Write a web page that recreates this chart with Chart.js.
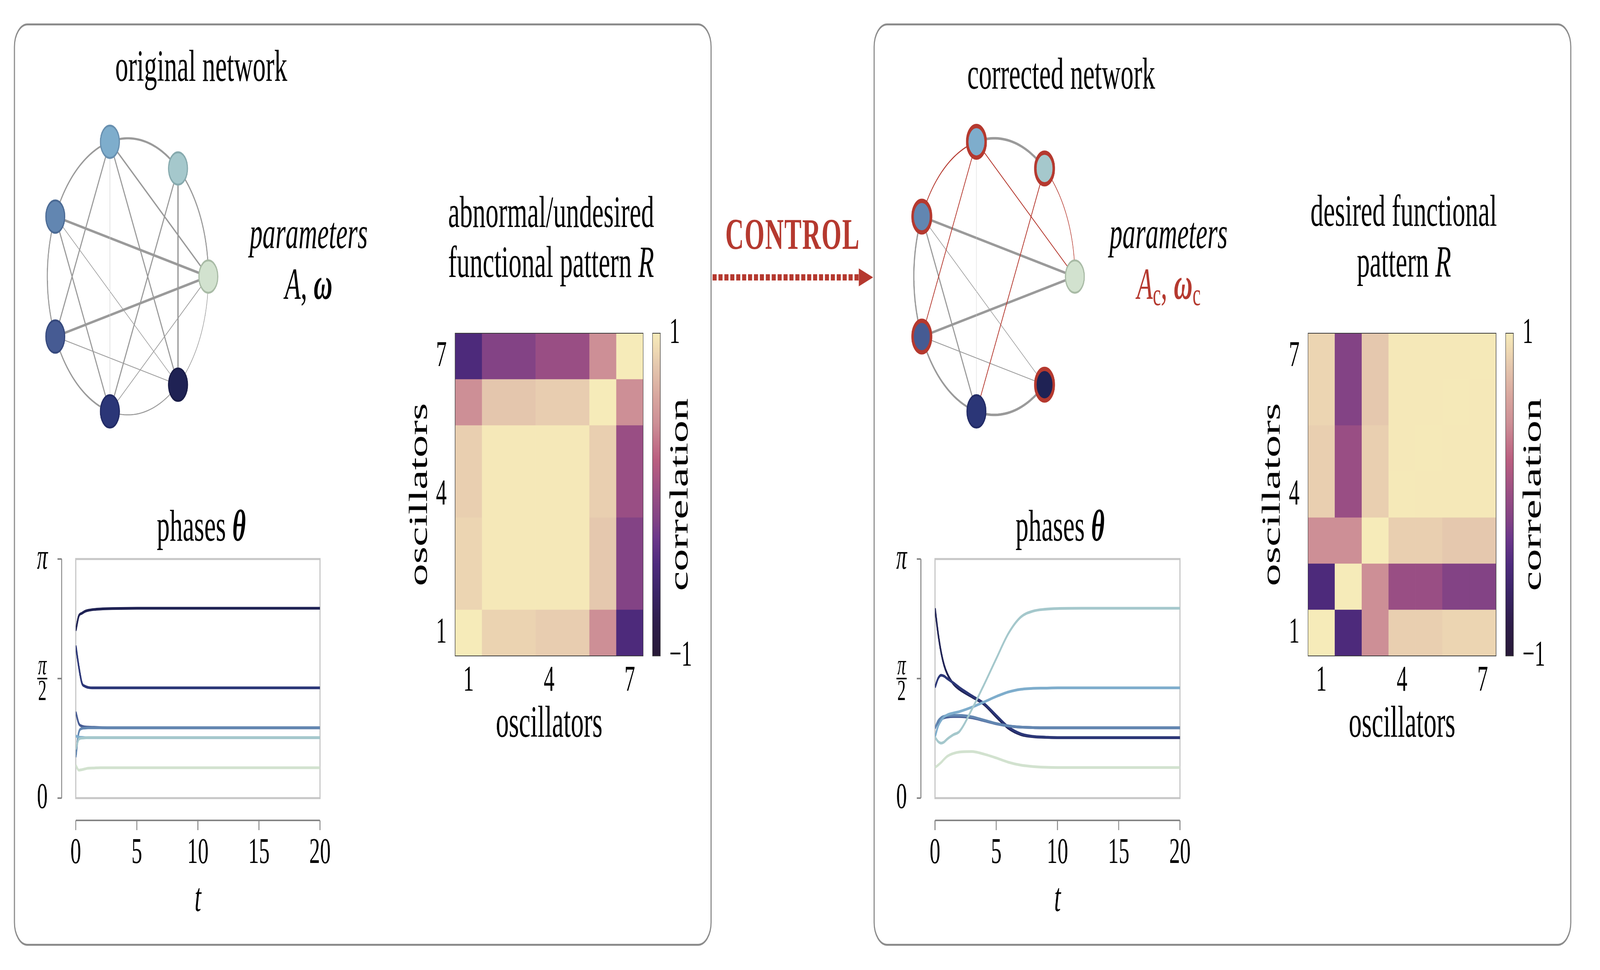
<!DOCTYPE html>
<html>
<head>
<meta charset="utf-8">
<script src="https://cdn.jsdelivr.net/npm/chart.js@4.4.1/dist/chart.umd.min.js"></script>
<style>
  html, body { margin: 0; padding: 0; background: #fff; overflow: hidden; }
  #page { position: relative; width: 7035px; height: 2483px; overflow: hidden; transform-origin: 0 0;
          font-family: "Liberation Serif", "DejaVu Serif", serif; color: #000; }
  .panel { position: absolute; border: 5px solid #8c8c8c; border-radius: 60px; box-sizing: border-box; }
  .txt { position: absolute; white-space: nowrap; line-height: 1; transform: translateX(-50%); }
  canvas { position: absolute; }
</style>
</head>
<body>
<div id="page">
  <div class="panel" style="left:61px;top:60px;width:3068px;height:2361px"></div>
  <div class="panel" style="left:3841px;top:60px;width:3068px;height:2361px"></div>
  <svg style="position:absolute;left:3120px;top:670px" width="730" height="80">
    <line x1="13" y1="40" x2="656" y2="40" stroke="#b5392f" stroke-width="16" stroke-dasharray="18 8"/>
    <polygon points="656,17 719,40 656,63" fill="#b5392f"/>
  </svg>
</div>

<script>
// oscillator indices (node k sits at angle k*2pi/7 on the ring)
const nodeIdx = [0, 1, 2, 3, 4, 5, 6];
const oscLabels = ["1", "2", "3", "4", "5", "6", "7"];
const oscTickIdx = [0, 3, 6];

// coupling edges [i, j, weight]
const edgesOrig = [
  [1, 2, 2.5], [2, 3, 2], [3, 4, 2], [4, 5, 2], [5, 6, 1], [6, 0, 0.8], [0, 1, 2],
  [2, 4, 2], [2, 5, 0.4], [2, 6, 2], [2, 0, 2], [1, 5, 2], [1, 6, 2.5],
  [3, 0, 3], [3, 5, 2], [3, 6, 0.7], [4, 0, 3], [4, 6, 0.7], [5, 0, 0.8]
];
// corrected network [i, j, weight, changed by control]
const edgesCorr = [
  [1, 2, 3, 0], [2, 3, 1.5, 1], [3, 4, 2.5, 0], [4, 5, 2.5, 0], [5, 6, 3, 0], [0, 1, 1, 1],
  [2, 0, 1.3, 1], [2, 4, 1.5, 1], [2, 5, 0.4, 0], [1, 5, 1.5, 1],
  [3, 0, 3, 0], [4, 0, 3, 0], [3, 5, 2, 0], [3, 6, 0.7, 0], [4, 6, 0.7, 0]
];
const controlledNodes = [1, 2, 3, 4, 6];

// phases (in units of pi), one row per node N0..N6
const tOrig = [0, 0.25, 0.5, 0.75, 1, 1.5, 2, 3, 5, 10, 20];
const phasesOrig = [
  [0.138, 0.117, 0.119, 0.122, 0.125, 0.126, 0.127, 0.127, 0.127, 0.127, 0.127],
  [0.204, 0.246, 0.251, 0.252, 0.253, 0.253, 0.253, 0.253, 0.253, 0.253, 0.253],
  [0.260, 0.255, 0.254, 0.253, 0.253, 0.253, 0.253, 0.253, 0.253, 0.253, 0.253],
  [0.171, 0.275, 0.291, 0.293, 0.294, 0.294, 0.294, 0.294, 0.294, 0.294, 0.294],
  [0.361, 0.312, 0.301, 0.298, 0.297, 0.296, 0.295, 0.294, 0.294, 0.294, 0.294],
  [0.638, 0.550, 0.482, 0.468, 0.463, 0.461, 0.461, 0.461, 0.461, 0.461, 0.461],
  [0.700, 0.762, 0.773, 0.781, 0.785, 0.789, 0.791, 0.793, 0.794, 0.794, 0.794]
];
const tCorr = [0, 0.25, 0.5, 0.75, 1, 1.5, 2, 3, 4, 5, 6, 7, 8, 9, 10, 12, 15, 20];
const phasesCorr = [
  [0.128, 0.138, 0.149, 0.163, 0.175, 0.187, 0.193, 0.195, 0.184, 0.168, 0.150, 0.138, 0.132, 0.129, 0.128, 0.128, 0.128, 0.128],
  [0.255, 0.237, 0.230, 0.235, 0.247, 0.265, 0.279, 0.370, 0.474, 0.583, 0.689, 0.757, 0.782, 0.790, 0.793, 0.794, 0.794, 0.794],
  [0.255, 0.300, 0.325, 0.340, 0.348, 0.356, 0.362, 0.380, 0.402, 0.425, 0.444, 0.455, 0.459, 0.460, 0.461, 0.461, 0.461, 0.461],
  [0.292, 0.322, 0.336, 0.342, 0.345, 0.346, 0.346, 0.340, 0.326, 0.312, 0.302, 0.297, 0.295, 0.294, 0.294, 0.294, 0.294, 0.294],
  [0.292, 0.318, 0.330, 0.336, 0.339, 0.341, 0.341, 0.336, 0.324, 0.311, 0.302, 0.297, 0.295, 0.294, 0.294, 0.294, 0.294, 0.294],
  [0.463, 0.500, 0.514, 0.510, 0.500, 0.482, 0.462, 0.428, 0.396, 0.346, 0.297, 0.269, 0.258, 0.255, 0.253, 0.253, 0.253, 0.253],
  [0.794, 0.690, 0.610, 0.555, 0.520, 0.478, 0.455, 0.424, 0.392, 0.340, 0.292, 0.266, 0.257, 0.254, 0.253, 0.253, 0.253, 0.253]
];
const phaseTicks = [0, 0.5, 1];
const phaseTickLabels = ["0", "π/2", "π"];
const timeTicks = [0, 5, 10, 15, 20];

// correlation patterns, rows bottom (osc 1) to top (osc 7)
const patternOrig = [
  [1.00, 0.86, 0.86, 0.83, 0.83, 0.44, -0.45],
  [0.87, 0.985, 0.985, 0.985, 0.985, 0.80, -0.15],
  [0.87, 0.985, 0.985, 0.985, 0.985, 0.80, -0.15],
  [0.84, 0.985, 0.985, 0.985, 0.985, 0.84, 0.00],
  [0.84, 0.985, 0.985, 0.985, 0.985, 0.84, 0.00],
  [0.44, 0.79, 0.79, 0.83, 0.83, 1.00, 0.44],
  [-0.45, -0.15, -0.15, 0.00, 0.00, 0.44, 1.00]
];
const patternDesired = [
  [1.00, -0.45, 0.44, 0.84, 0.84, 0.87, 0.87],
  [-0.45, 1.00, 0.44, 0.00, 0.00, -0.15, -0.15],
  [0.44, 0.44, 1.00, 0.84, 0.84, 0.80, 0.80],
  [0.84, 0.00, 0.84, 0.99, 0.985, 0.985, 0.985],
  [0.84, 0.00, 0.84, 0.985, 0.99, 0.985, 0.985],
  [0.87, -0.15, 0.80, 0.985, 0.985, 0.99, 0.985],
  [0.87, -0.15, 0.80, 0.985, 0.985, 0.985, 0.99]
];
const corrTicks = [-1, 1];

// ---- styles ----
const RED = "#b5392f";
const GRAY = "#9a9a9a";
const nodeFill = ["#d2e2cf", "#a5c8cc", "#7eadcc", "#6286b1", "#465b93", "#2b3677", "#1f2254"];
const nodeStroke = ["#a9bba6", "#87aaae", "#6890b0", "#4c6b95", "#36497d", "#222b66", "#1a1d48"];
const cmapStops = [
  [-1, "#281a38"], [-0.8, "#2e1d4a"], [-0.6, "#3b2568"], [-0.43, "#4f2b7e"], [-0.27, "#6c378b"],
  [-0.15, "#834385"], [0, "#994e84"], [0.22, "#bb5f80"], [0.44, "#cd8f96"], [0.6, "#d8a59e"],
  [0.8, "#e5c8ae"], [0.9, "#efdab3"], [1, "#f6ebb9"]
];
const FONT = "Liberation Serif";

function hex(c) { return [1, 3, 5].map(i => parseInt(c.substr(i, 2), 16)); }
function cmap(v) {
  for (let i = 1; i < cmapStops.length; i++) {
    const [v0, c0] = cmapStops[i - 1], [v1, c1] = cmapStops[i];
    if (v <= v1) {
      const f = (v - v0) / (v1 - v0), a = hex(c0), b = hex(c1);
      return "rgb(" + a.map((x, k) => Math.round(x + (b[k] - x) * f)).join(",") + ")";
    }
  }
  return cmapStops[cmapStops.length - 1][1];
}

const page = document.getElementById("page");
// the window we get may be narrower than 7035: stretch the layout onto it
page.style.transform = "scale(" + (window.innerWidth / 7035) + "," + (window.innerHeight / 2483) + ")";

function place(left, top, w, h) {
  const c = document.createElement("canvas");
  c.width = w; c.height = h;
  c.style.left = left + "px"; c.style.top = top + "px";
  c.style.width = w + "px"; c.style.height = h + "px";
  page.appendChild(c);
  return c;
}

function text(html, cx, baseline, size, extra) {
  const d = document.createElement("div");
  d.className = "txt";
  d.innerHTML = html;
  d.style.left = cx + "px";
  d.style.top = (baseline - 0.8375 * size) + "px";
  d.style.fontSize = size + "px";
  if (extra) Object.assign(d.style, extra);
  page.appendChild(d);
}

const base = {
  responsive: false, animation: false, devicePixelRatio: 1,
  plugins: { legend: { display: false }, tooltip: { enabled: false } }
};
function pad(p) { return { autoPadding: false, padding: p }; }
// fixed axis size, no extra room for edge labels
function fixSize(dim, v) {
  return s => { s[dim] = v; s.paddingTop = 0; s.paddingBottom = 0; s.paddingLeft = 0; s.paddingRight = 0; };
}

// ---------- network ----------
function networkChart(left, top, size, radiusPx, edges, ring) {
  const R = size / 2 / radiusPx;
  const step = 2 * Math.PI / 7;
  const pos = nodeIdx.map(k => ({ x: Math.cos(k * step), y: Math.sin(k * step) }));
  const ds = [{
    data: pos, order: 0,
    pointRadius: nodeIdx.map(k => ring.includes(k) ? 40.5 : 41.5),
    pointBorderWidth: nodeIdx.map(k => ring.includes(k) ? 11 : 5),
    pointBackgroundColor: nodeFill,
    pointBorderColor: nodeIdx.map(k => ring.includes(k) ? RED : nodeStroke[k])
  }];
  edges.forEach(([i, j, w, changed]) => {
    let pts;
    if ((j - i + 7) % 7 === 1 || (i - j + 7) % 7 === 1) {
      // neighbours on the ring: follow the circle
      let a = (j - i + 7) % 7 === 1 ? i : j;
      pts = [];
      for (let s = 0; s <= 30; s++) {
        const ang = (a + s / 30) * step;
        pts.push({ x: Math.cos(ang), y: Math.sin(ang) });
      }
    } else {
      pts = [pos[i], pos[j]];
    }
    ds.push({
      data: pts, order: 1, showLine: true, pointRadius: 0, tension: 0,
      borderColor: changed ? RED : (w < 0.5 ? "#cdcdcd" : GRAY),
      borderWidth: changed ? 0.8 + 1.5 * w : 0.8 + 1.9 * w
    });
  });
  new Chart(place(left, top, size, size), {
    type: "scatter",
    data: { datasets: ds },
    options: Object.assign({}, base, {
      layout: pad(0),
      scales: {
        x: { display: false, min: -R, max: R },
        y: { display: false, min: -R, max: R }
      }
    })
  });
}

// ---------- phases ----------
const phaseAxes = {
  id: "phaseAxes",
  beforeDatasetsDraw(chart) {
    const { ctx, chartArea: a } = chart;
    ctx.save();
    ctx.strokeStyle = "#c6c6c6"; ctx.lineWidth = 5;
    ctx.strokeRect(a.left, a.top, a.right - a.left, a.bottom - a.top);
    ctx.restore();
  },
  afterDraw(chart) {
    const { ctx, chartArea: a, scales: { x, y } } = chart;
    ctx.save();
    ctx.strokeStyle = "#858585"; ctx.lineWidth = 4; ctx.fillStyle = "#000";
    // y spine
    const sx = a.left - 62;
    ctx.beginPath();
    ctx.moveTo(sx, y.getPixelForValue(0)); ctx.lineTo(sx, y.getPixelForValue(1));
    phaseTicks.forEach(v => { const py = y.getPixelForValue(v); ctx.moveTo(sx - 18, py); ctx.lineTo(sx, py); });
    ctx.stroke();
    const lx = a.left - 147;
    ctx.textAlign = "center"; ctx.textBaseline = "middle";
    phaseTicks.forEach((v, i) => {
      const py = y.getPixelForValue(v), lab = phaseTickLabels[i];
      if (lab.includes("/")) {
        const [n, d] = lab.split("/");
        ctx.font = "italic 74px " + FONT;
        ctx.fillText(n, lx, py - 30);
        ctx.font = "74px " + FONT;
        ctx.fillText(d, lx, py + 36);
        ctx.fillRect(lx - 22, py - 2, 44, 4);
      } else {
        ctx.font = (lab === "π" ? "italic " : "") + "94px " + FONT;
        ctx.fillText(lab, lx, py);
      }
    });
    // x spine
    const sy = a.bottom + 57;
    ctx.beginPath();
    ctx.moveTo(x.getPixelForValue(0), sy); ctx.lineTo(x.getPixelForValue(20), sy);
    timeTicks.forEach(v => { const px = x.getPixelForValue(v); ctx.moveTo(px, sy); ctx.lineTo(px, sy + 25); });
    ctx.stroke();
    ctx.font = "94px " + FONT;
    timeTicks.forEach(v => ctx.fillText(String(v), x.getPixelForValue(v), a.bottom + 141));
    ctx.font = "italic 104px " + FONT;
    ctx.fillText("t", x.getPixelForValue(10), a.bottom + 262);
    ctx.restore();
  }
};

function phaseChart(left, top, w, h, p, t, series) {
  new Chart(place(left, top, w, h), {
    type: "line",
    data: {
      datasets: series.map((vals, k) => ({
        data: t.map((tt, i) => ({ x: tt, y: vals[i] })),
        borderColor: nodeFill[k], borderWidth: 7, pointRadius: 0,
        cubicInterpolationMode: "monotone"
      }))
    },
    options: Object.assign({}, base, {
      layout: pad(p),
      scales: {
        x: { type: "linear", display: false, min: 0, max: 20 },
        y: { display: false, min: 0, max: 1 }
      }
    }),
    plugins: [phaseAxes]
  });
}

// ---------- heatmaps ----------
const outline = {
  id: "outline",
  afterDatasetsDraw(chart) {
    const { ctx, chartArea: a } = chart;
    ctx.save();
    ctx.strokeStyle = "#3a3a3a"; ctx.lineWidth = 2;
    ctx.strokeRect(a.left, a.top, a.right - a.left, a.bottom - a.top);
    ctx.restore();
  }
};

function heatChart(left, top, matrix) {
  new Chart(place(left, top, 1050, 1100), {
    type: "bar",
    data: {
      labels: oscLabels,
      datasets: matrix.map(row => ({
        data: row.map(() => 1),
        backgroundColor: row.map(cmap),
        borderWidth: 0, barPercentage: 1, categoryPercentage: 1
      }))
    },
    options: Object.assign({}, base, {
      layout: pad({ top: 13, right: 12, left: 0, bottom: 0 }),
      scales: {
        x: {
          stacked: true, grid: { display: false }, border: { display: false },
          afterFit: fixSize("height", 261),
          ticks: {
            autoSkip: false, maxRotation: 0, padding: 0, color: "#000",
            font: { family: FONT, size: 94 },
            callback: (v, i) => oscTickIdx.includes(i) ? oscLabels[i] : ""
          },
          title: { display: true, text: "oscillators", color: "#000",
                   font: { family: FONT, size: 114, lineHeight: 1 }, padding: { top: 0, bottom: 27 } }
        },
        y: {
          stacked: true, min: 0, max: 7, grid: { display: false }, border: { display: false },
          afterFit: fixSize("width", 211),
          afterBuildTicks: s => { s.ticks = oscTickIdx.map(i => ({ value: i + 0.5 })); },
          ticks: {
            padding: 29, color: "#000", font: { family: FONT, size: 94 },
            callback: v => oscLabels[Math.round(v - 0.5)]
          },
          title: { display: true, text: "oscillators", color: "#000",
                   font: { family: FONT, size: 114, lineHeight: 1 }, padding: { top: 0, bottom: 0 } }
        }
      }
    }),
    plugins: [outline]
  });
}

const cbarTitle = {
  id: "cbarTitle",
  afterDraw(chart) {
    const { ctx, chartArea: a } = chart;
    ctx.save();
    ctx.translate(a.right + 90, (a.top + a.bottom) / 2);
    ctx.rotate(-Math.PI / 2);
    ctx.font = "114px " + FONT; ctx.fillStyle = "#000";
    ctx.textAlign = "center"; ctx.textBaseline = "middle";
    ctx.fillText("correlation", 0, 0);
    ctx.restore();
  }
};

function colorbar(left, top) {
  new Chart(place(left, top, 260, 1000), {
    type: "bar",
    data: {
      labels: [""],
      datasets: [{
        data: [corrTicks],
        barPercentage: 1, categoryPercentage: 1, borderWidth: 0, borderSkipped: false,
        backgroundColor: c => {
          const ch = c.chart;
          if (!ch.chartArea) return "#999";
          const ys = ch.scales.y;
          const g = ch.ctx.createLinearGradient(0, ys.getPixelForValue(-1), 0, ys.getPixelForValue(1));
          cmapStops.forEach(([v, col]) => g.addColorStop((v + 1) / 2, col));
          return g;
        }
      }]
    },
    options: Object.assign({}, base, {
      layout: pad({ left: 9, top: 93, bottom: 81, right: 0 }),
      scales: {
        x: { display: false },
        y: {
          position: "right", min: -1, max: 1, grid: { display: false }, border: { display: false },
          afterFit: fixSize("width", 217),
          afterBuildTicks: s => { s.ticks = corrTicks.map(v => ({ value: v })); },
          ticks: { padding: 32, color: "#000", font: { family: FONT, size: 94 },
                   callback: v => v < 0 ? "\u2212" + Math.abs(v) : String(v) }
        }
      }
    }),
    plugins: [outline, cbarTitle]
  });
}

// ---------- build ----------
networkChart(112, 258, 900, 354, edgesOrig, []);
networkChart(3922, 258, 900, 354, edgesCorr, controlledNodes);

phaseChart(100, 1400, 1380, 1000, { left: 233, right: 73, top: 31, bottom: 357 }, tOrig, phasesOrig);
phaseChart(3880, 1400, 1380, 1000, { left: 231, right: 72, top: 31, bottom: 357 }, tCorr, phasesCorr);

heatChart(1790, 840, patternOrig);
heatChart(5540, 840, patternDesired);
colorbar(2860, 760);
colorbar(6611, 760);

const T = 114;
text("original network", 885, 207, T);
text("<i>parameters</i>", 1357, 635, T);
text("<i>A</i>, <b><i>ω</i></b>", 1357, 765, T);
text("abnormal/undesired", 2423, 581, T);
text("functional pattern <i>R</i>", 2423, 709, T);
text("phases <b><i>θ</i></b>", 885, 1384, T);
text("CONTROL", 3485, 637, 113, { fontWeight: "bold", color: RED, letterSpacing: "3px" });
text("corrected network", 4666, 227, T);
text("<i>parameters</i>", 5138, 635, T);
text("<i>A</i><sub style='font-size:0.7em;vertical-align:-0.2em'>c</sub>, <b><i>ω</i></b><sub style='font-size:0.7em;vertical-align:-0.2em'>c</sub>", 5139, 765, T, { color: RED });
text("desired functional", 6172, 578, T);
text("pattern <i>R</i>", 6173, 708, T);
text("phases <b><i>θ</i></b>", 4661, 1384, T);
</script>
</body>
</html>
